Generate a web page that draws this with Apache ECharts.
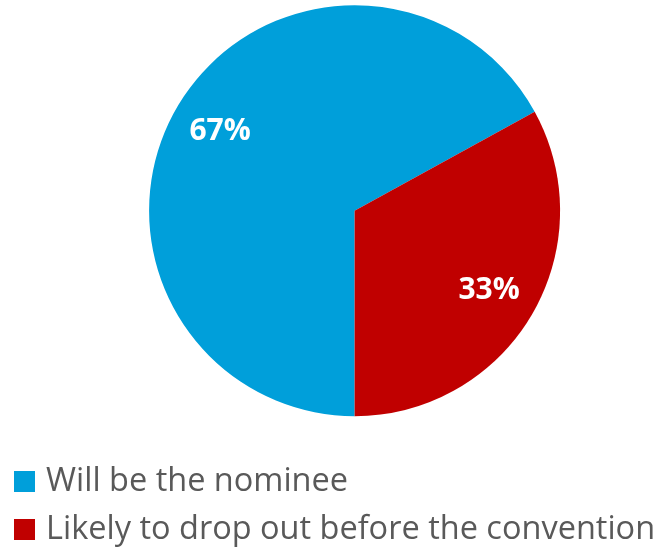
<!DOCTYPE html>
<html><head><meta charset="utf-8">
<script src="https://cdn.jsdelivr.net/npm/echarts@6/dist/echarts.min.js"></script>
<style>html,body{margin:0;padding:0;background:#fff}#c{width:656px;height:547px}</style>
</head><body><div id="c"></div>
<script>
const categories = ["Will be the nominee", "Likely to drop out before the convention"];
const values = [67, 33];
const colors = ["#009FDA", "#C00000"];

const chart = echarts.init(document.getElementById('c'), null, {renderer: 'canvas'});
const legendTops = [465, 513];
const legends = categories.map((n, i) => ({
  orient: 'vertical', left: 14, top: legendTops[i], padding: 0,
  itemWidth: 21, itemHeight: 21, itemGap: 0, icon: 'rect', selectedMode: false,
  textStyle: {fontFamily: 'Open Sans, sans-serif', fontSize: 32.5, color: '#595959', padding: [0,0,0,6]},
  data: [n]
}));
chart.setOption({
  animation: false,
  legend: legends,
  series: [{
    type: 'pie', center: [354.6, 210.7], radius: [0, 205.5],
    startAngle: 270, clockwise: true, silent: true,
    label: {show: false}, labelLine: {show: false},
    data: categories.map((n, i) => ({name: n, value: values[i], itemStyle: {color: colors[i]}}))
  }, {
    type: 'pie', center: [354.6, 210.7], radius: [101, 205.5],
    startAngle: 270, clockwise: true, silent: true,
    itemStyle: {color: 'rgba(0,0,0,0)', borderWidth: 0},
    label: {show: true, position: 'inside', formatter: p => p.value + '%',
      color: '#fff', fontWeight: 'bold', fontSize: 30, fontFamily: 'Open Sans, sans-serif',
      padding: [6, 0, 0, 0]},
    labelLine: {show: false},
    data: categories.map((n, i) => ({name: n, value: values[i], itemStyle: {color: 'rgba(0,0,0,0)'}}))
  }]
});
</script></body></html>
